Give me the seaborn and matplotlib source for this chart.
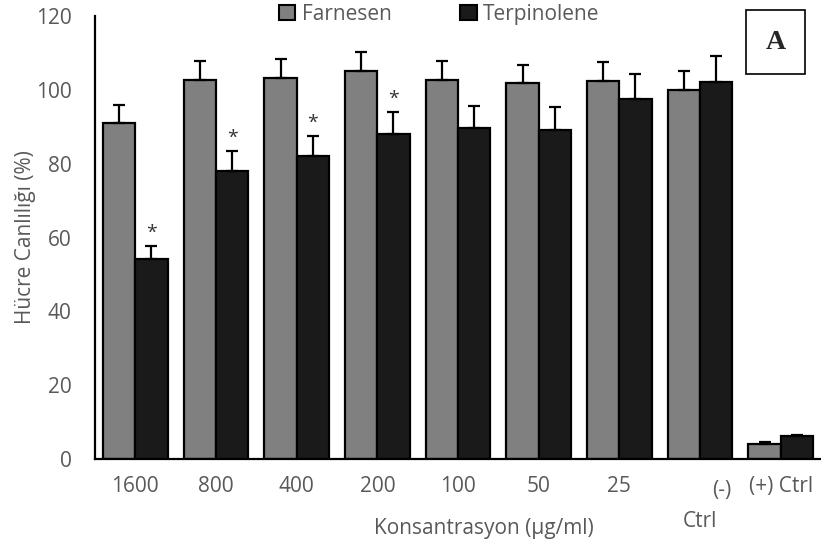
import numpy as np
import pandas as pd
import matplotlib
matplotlib.use("Agg")
import matplotlib.pyplot as plt
import seaborn as sns
from matplotlib.patches import Patch

# Data
categories = ["1600", "800", "400", "200", "100", "50", "25", "(-) Ctrl", "(+) Ctrl"]
farnesen = [91.1, 102.7, 103.2, 105.1, 102.7, 101.8, 102.4, 100.0, 4.1]
farnesen_err = [4.7, 5.2, 5.1, 5.2, 5.2, 5.0, 5.1, 5.1, 0.4]
terpinolene = [54.1, 78.0, 82.1, 88.0, 89.6, 89.2, 97.6, 102.1, 6.1]
terpinolene_err = [3.7, 5.5, 5.5, 6.0, 6.0, 6.1, 6.7, 7.1, 0.5]
signif = [True, True, True, True, False, False, False, False, False]

txt = "#595959"
colors = {"Farnesen": "#808080", "Terpinolene": "#1a1a1a"}

df = pd.DataFrame({
    "Konsantrasyon": categories * 2,
    "value": farnesen + terpinolene,
    "err": farnesen_err + terpinolene_err,
    "group": ["Farnesen"] * len(categories) + ["Terpinolene"] * len(categories),
})

sns.set_style("white")
plt.rcParams['font.family'] = ['Open Sans', 'DejaVu Sans']
fs = 15

fig = plt.figure(figsize=(8.21, 5.47), dpi=100)
ax = fig.add_axes([0.1157, 0.1609, 0.8843, 0.8098])

sns.barplot(data=df, x="Konsantrasyon", y="value", hue="group", palette=colors,
            order=categories, hue_order=["Farnesen", "Terpinolene"],
            errorbar=None, edgecolor="black", linewidth=1.6, width=0.8,
            legend=False, ax=ax)

# upward-only error bars
bars = ax.patches
errs = farnesen_err + terpinolene_err
for p, e in zip(bars, errs):
    xc = p.get_x() + p.get_width() / 2
    top = p.get_height()
    ax.errorbar(xc, top, yerr=[[0], [e]], fmt="none", ecolor="black",
                elinewidth=1.6, capsize=4, capthick=1.6, zorder=3)

# asterisks on Terpinolene bars
n = len(categories)
for i, s in enumerate(signif):
    if s:
        p = bars[n + i]
        xc = p.get_x() + p.get_width() / 2
        ax.text(xc, p.get_height() + terpinolene_err[i] + 1.0, "*", ha="center",
                va="bottom", fontsize=14, color="#333333")

ax.set_xlim(-0.5, 8.5)
ax.set_ylim(0, 120)
ax.set_yticks(np.arange(0, 121, 20))
ax.set_ylabel("Hücre Canlılığı (%)", fontsize=fs, color=txt)
ax.set_xlabel("Konsantrasyon (µg/ml)", fontsize=fs, color=txt)
ax.yaxis.set_label_coords(-0.081, 0.5)
ax.xaxis.set_label_coords(0.536, -0.133)

labels = categories[:7] + ["", "(+) Ctrl"]
ax.set_xticks(range(n))
ax.set_xticklabels(labels)
ax.text(7.27, -0.048, "(-)", transform=ax.get_xaxis_transform(), ha="center",
        va="top", fontsize=fs, color=txt)
ax.text(7.0, -0.118, "Ctrl", transform=ax.get_xaxis_transform(), ha="center",
        va="top", fontsize=fs, color=txt)

ax.tick_params(axis="both", labelsize=fs, labelcolor=txt, color="black",
               direction="out", width=1.6)
ax.tick_params(axis="x", length=5, pad=7)
ax.tick_params(axis="y", length=7, pad=10)
for side in ["top", "right"]:
    ax.spines[side].set_visible(False)
for side in ["left", "bottom"]:
    ax.spines[side].set_linewidth(1.6)
    ax.spines[side].set_color("black")

handles = [Patch(facecolor=colors[k], edgecolor="black", linewidth=1.5) for k in colors]
leg = fig.legend(handles, list(colors), loc="center", bbox_to_anchor=(0.535, 0.974),
                 ncol=2, frameon=False, fontsize=fs, handlelength=0.8, handleheight=0.8,
                 handletextpad=0.3, columnspacing=3.3, borderpad=0)
for t in leg.get_texts():
    t.set_color(txt)

fig.text(0.9446, 0.923, "A", ha="center", va="center", fontsize=20, fontweight="bold",
         family="Liberation Serif",
         bbox=dict(boxstyle="square,pad=0.7", facecolor="white", edgecolor="black",
                   linewidth=1.2))

fig.savefig("out.png", dpi=100)
